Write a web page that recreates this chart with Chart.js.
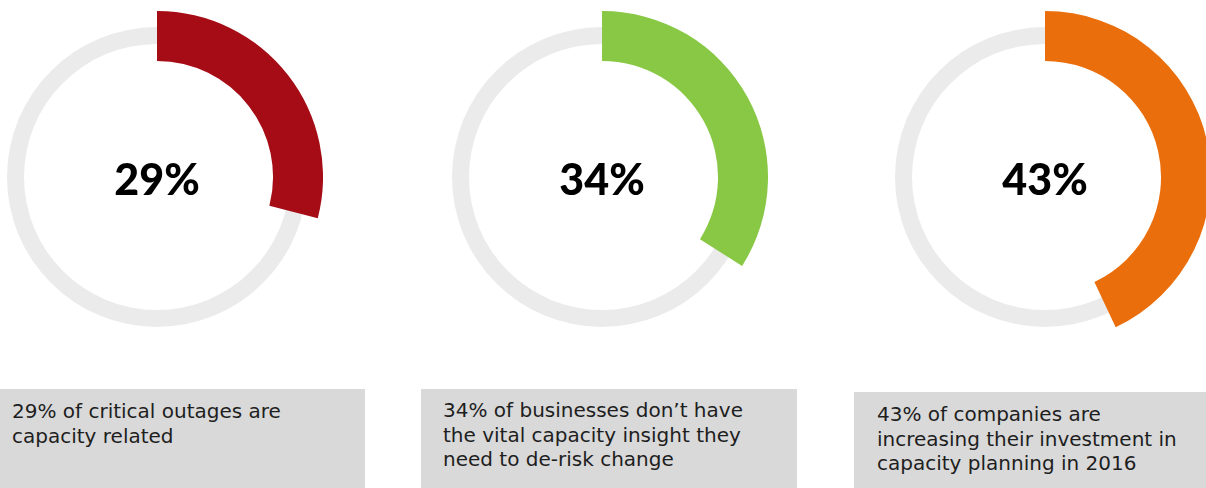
<!DOCTYPE html>
<html>
<head>
<meta charset="utf-8">
<script src="https://cdn.jsdelivr.net/npm/chart.js@4.4.1/dist/chart.umd.min.js"></script>
<style>
  html, body { margin: 0; padding: 0; background: #ffffff; }
  body { width: 1206px; height: 488px; position: relative; overflow: hidden; }
  .gauge { position: absolute; width: 332px; height: 332px; }
  .gauge canvas { position: absolute; left: 0; top: 0; }
  .box { position: absolute; background: #d9d9d9; bottom: 0; }
  .cap { position: absolute; font-family: "DejaVu Sans", sans-serif; font-size: 20px; line-height: 24.5px; color: #1e1e1e; white-space: nowrap; }
</style>
</head>
<body>
<script>
// ---- data ----
const categories = ['Critical outages', 'Capacity insight', 'Capacity investment'];
const values = [29, 34, 43];
const centerLabels = ['29%', '34%', '43%'];
const captions = [
  ['29% of critical outages are', 'capacity related'],
  ['34% of businesses don\u2019t have', 'the vital capacity insight they', 'need to de-risk change'],
  ['43% of companies are', 'increasing their investment in', 'capacity planning in 2016']
];
const colors = ['#a60c15', '#88c845', '#ea6e0b'];

// ---- layout (positions / styles) ----
const centersX = [157, 602, 1045];
const centerY = 177;
const size = 332;
const boxes = [
  { left: 0, top: 389, width: 365, textLeft: 12, textTop: 399 },
  { left: 421, top: 389, width: 376, textLeft: 443, textTop: 398 },
  { left: 854, top: 392, width: 352, textLeft: 877, textTop: 402 }
];

const centerTextPlugin = {
  id: 'centerText',
  afterDraw(chart, args, opts) {
    const arc = chart.getDatasetMeta(0).data[0];
    if (!arc) return;
    const ctx = chart.ctx;
    ctx.save();
    ctx.fillStyle = '#000000';
    ctx.font = '900 43px Lato, "DejaVu Sans", sans-serif';
    ctx.textAlign = 'center';
    ctx.textBaseline = 'alphabetic';
    ctx.fillText(opts.text, arc.x, arc.y + 18);
    ctx.restore();
  }
};

categories.forEach((cat, i) => {
  const wrap = document.createElement('div');
  wrap.className = 'gauge';
  wrap.style.left = (centersX[i] - size / 2) + 'px';
  wrap.style.top = (centerY - size / 2) + 'px';
  const bg = document.createElement('canvas');
  bg.width = size; bg.height = size;
  const fg = document.createElement('canvas');
  fg.width = size; fg.height = size;
  wrap.appendChild(bg);
  wrap.appendChild(fg);
  document.body.appendChild(wrap);

  const common = {
    responsive: false,
    animation: false,
    events: [],
    layout: { padding: 0 },
    plugins: { legend: { display: false }, tooltip: { enabled: false } }
  };

  // grey track ring (outer 150px, inner 133px)
  new Chart(bg, {
    type: 'doughnut',
    data: { labels: [cat], datasets: [{ data: [100], backgroundColor: ['#ebebeb'], borderWidth: 0 }] },
    options: Object.assign({}, common, { radius: 150, cutout: '88.67%' })
  });

  // coloured value arc (outer 166px, inner 116px)
  new Chart(fg, {
    type: 'doughnut',
    data: {
      labels: [cat, 'rest'],
      datasets: [{
        data: [values[i], 100 - values[i]],
        backgroundColor: [colors[i], 'rgba(0,0,0,0)'],
        borderWidth: 0
      }]
    },
    options: Object.assign({}, common, {
      radius: 166,
      cutout: '69.9%',
      plugins: Object.assign({}, common.plugins, { centerText: { text: centerLabels[i] } })
    }),
    plugins: [centerTextPlugin]
  });

  const b = boxes[i];
  const box = document.createElement('div');
  box.className = 'box';
  box.style.left = b.left + 'px';
  box.style.top = b.top + 'px';
  box.style.width = b.width + 'px';
  document.body.appendChild(box);

  const cap = document.createElement('div');
  cap.className = 'cap';
  cap.style.left = b.textLeft + 'px';
  cap.style.top = b.textTop + 'px';
  cap.innerHTML = captions[i].join('<br>');
  document.body.appendChild(cap);
});
</script>
</body>
</html>
